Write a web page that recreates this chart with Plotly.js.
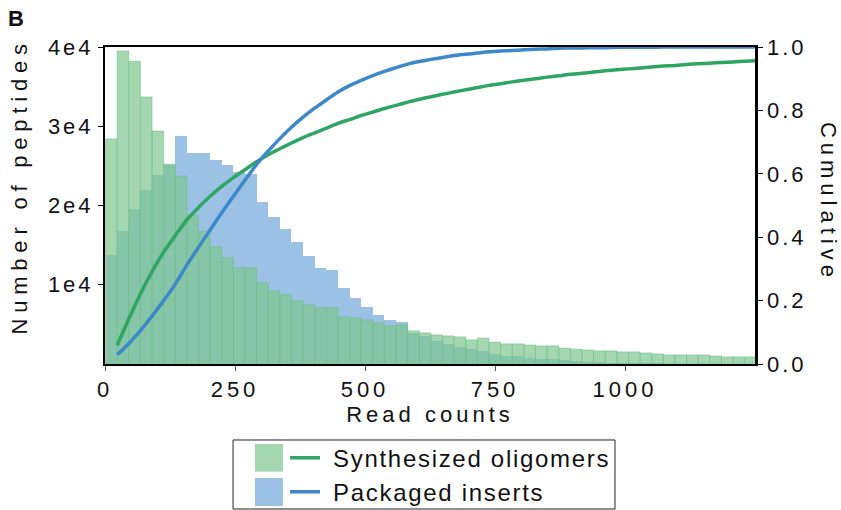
<!DOCTYPE html>
<html>
<head>
<meta charset="utf-8">
<script src="https://cdn.plot.ly/plotly-3.0.1.min.js"></script>
<style>
  html, body { margin: 0; padding: 0; background: #fff; }
  #chart { width: 841px; height: 510px; }
  .xtick text { letter-spacing: 4px; }
  .ytick text, .y2tick text { letter-spacing: 3px; }
  .xtitle { letter-spacing: 4px; }
  .legendtext { letter-spacing: 1.7px; transform: translate(8px, 0px); }
  g.annotation[data-index="1"] text { letter-spacing: 5.8px; }
  g.annotation[data-index="2"] text { letter-spacing: 5px; }
</style>
</head>
<body>
<div id="chart"></div>
<script>
// ---- Data ----
// Histogram bins: 56 bins of equal width starting at read count 1
const binStart = 1;
const binWidth = 22.35;

// Number of peptides per bin
const synthesizedCounts = [
  28400, 39500, 38200, 33700, 29400, 25200, 23700, 18800, 16750, 14800,
  13400, 12150, 12150, 10250, 9240, 8740, 7980, 7470, 7130, 7130,
  5950, 5820, 5570, 5190, 4810, 4940, 4180, 3920, 3670, 3540,
  3420, 3040, 3270, 2760, 2530, 2530, 2400, 2280, 2280, 2000,
  1870, 1770, 1650, 1650, 1520, 1520, 1390, 1270, 1140, 1140,
  1140, 1140, 1010, 890, 890, 890
];
const packagedCounts = [
  13800, 16840, 19620, 21900, 23800, 25100, 28740, 26590, 26590, 25700,
  25070, 24200, 24000, 20470, 18610, 17090, 15450, 13670, 12150, 11900,
  9620, 8360, 7220, 6200, 5570, 5320, 3920, 3540, 2910, 2530,
  2150, 1900, 1650, 1270, 1010, 1010, 720, 630, 630, 500,
  380, 250, 200, 170, 140, 110, 90, 70, 55, 45,
  35, 28, 22, 18, 14, 10
];

// Cumulative fraction at the right edge of each bin
const synthesizedCumulative = [
  0.059, 0.142, 0.221, 0.291, 0.353, 0.405, 0.455, 0.494, 0.529, 0.560,
  0.588, 0.613, 0.638, 0.660, 0.679, 0.697, 0.714, 0.729, 0.744, 0.759,
  0.771, 0.784, 0.795, 0.806, 0.816, 0.826, 0.835, 0.843, 0.851, 0.858,
  0.865, 0.872, 0.879, 0.884, 0.890, 0.895, 0.900, 0.905, 0.909, 0.914,
  0.917, 0.921, 0.925, 0.928, 0.931, 0.934, 0.937, 0.940, 0.942, 0.945,
  0.947, 0.949, 0.951, 0.953, 0.955, 0.957
];
const packagedCumulative = [
  0.029, 0.064, 0.105, 0.151, 0.200, 0.252, 0.312, 0.368, 0.423, 0.477,
  0.529, 0.580, 0.630, 0.672, 0.711, 0.747, 0.779, 0.807, 0.833, 0.858,
  0.878, 0.895, 0.910, 0.923, 0.935, 0.946, 0.954, 0.961, 0.967, 0.973,
  0.977, 0.981, 0.985, 0.987, 0.989, 0.991, 0.993, 0.994, 0.996, 0.997,
  0.997, 0.998, 0.998, 0.999, 0.999, 0.999, 0.999, 1.000, 1.000, 1.000,
  1.000, 1.000, 1.000, 1.000, 1.000, 1.000
];

const seriesNames = ['Synthesized oligomers', 'Packaged inserts'];
const xTickVals = [0, 250, 500, 750, 1000];
const yTickVals = [10000, 20000, 30000, 40000];
const yTickText = ['1e4', '2e4', '3e4', '4e4'];

// ---- Derived bin positions ----
const binLeft = synthesizedCounts.map((_, i) => binStart + i * binWidth);
const binRight = binLeft.map(v => v + binWidth);

const greenBar = 'rgba(125,198,142,0.7)';
const blueBar = 'rgba(88,152,212,0.6)';
const greenLine = '#2fa564';
const blueLine = '#3d88c9';
const FONT = 'Liberation Sans, Arial, sans-serif';

const traces = [
  {
    type: 'bar', x: binLeft, y: packagedCounts, width: binWidth, offset: 0,
    marker: { color: blueBar, line: { width: 0 } },
    showlegend: false, name: seriesNames[1], hoverinfo: 'skip'
  },
  {
    type: 'bar', x: binLeft, y: synthesizedCounts, width: binWidth, offset: 0,
    marker: { color: greenBar, line: { width: 0.6, color: 'rgba(110,190,135,0.9)' } },
    showlegend: false, name: seriesNames[0], hoverinfo: 'skip'
  },
  {
    type: 'scatter', mode: 'lines', x: binRight, y: synthesizedCumulative, yaxis: 'y2',
    line: { color: greenLine, width: 3.5, shape: 'spline', smoothing: 0.6 },
    name: seriesNames[0]
  },
  {
    type: 'scatter', mode: 'lines', x: binRight, y: packagedCumulative, yaxis: 'y2',
    line: { color: blueLine, width: 3.5, shape: 'spline', smoothing: 0.6 },
    name: seriesNames[1]
  }
];

// plot area: x 105..755 px, y 47..364 px
const layout = {
  width: 841, height: 510,
  margin: { l: 105, r: 86, t: 47, b: 146, pad: 0, autoexpand: false },
  paper_bgcolor: '#fff', plot_bgcolor: '#fff',
  font: { family: FONT, size: 22, color: '#111' },
  barmode: 'overlay', bargap: 0,
  showlegend: true,
  legend: {
    xref: 'container', yref: 'container',
    x: 0.3389, y: 0.146, xanchor: 'left', yanchor: 'top',
    bgcolor: 'rgba(0,0,0,0)', borderwidth: 0,
    font: { family: FONT, size: 24, color: '#111' },
    tracegroupgap: 0
  },
  xaxis: {
    range: [0, 1250], tickvals: xTickVals, ticktext: xTickVals.map(String),
    ticks: 'outside', ticklen: 5, tickwidth: 1, tickcolor: '#555',
    showline: true, linecolor: '#000', linewidth: 2, mirror: true,
    showgrid: false, zeroline: false,
    tickfont: { family: FONT, size: 22, color: '#111' },
    title: { text: 'Read counts', font: { family: FONT, size: 22, color: '#111' }, standoff: 0 }
  },
  yaxis: {
    range: [0, 40000], tickvals: yTickVals, ticktext: yTickText,
    ticks: 'outside', ticklen: 5, tickwidth: 1, tickcolor: '#000',
    showline: true, linecolor: '#000', linewidth: 2,
    showgrid: false, zeroline: false,
    tickfont: { family: FONT, size: 22, color: '#111' }
  },
  yaxis2: {
    overlaying: 'y', side: 'right', range: [0, 1], dtick: 0.2, tickformat: '.1f',
    ticks: 'outside', ticklen: 5, tickwidth: 1, tickcolor: '#000',
    showline: true, linecolor: '#000', linewidth: 2.5,
    showgrid: false, zeroline: false,
    tickfont: { family: FONT, size: 22, color: '#111' }
  },
  annotations: [
    { text: '<b>B</b>', xref: 'paper', yref: 'paper', x: -0.152, y: 1.135,
      xanchor: 'left', yanchor: 'top', showarrow: false,
      font: { family: FONT, size: 22, color: '#111' } },
    { text: 'Number of peptides', xref: 'paper', yref: 'paper', x: -0.131, y: 0.56,
      xanchor: 'center', yanchor: 'middle', textangle: -90, showarrow: false,
      font: { family: FONT, size: 22, color: '#111' } },
    { text: 'Cumulative', xref: 'paper', yref: 'paper', x: 1.113, y: 0.51,
      xanchor: 'center', yanchor: 'middle', textangle: 90, showarrow: false,
      font: { family: FONT, size: 22, color: '#111' } }
  ],
  shapes: [
    // legend frame
    { type: 'rect', xref: 'paper', yref: 'paper', x0: 0.197, x1: 0.7846, y0: -0.4574, y1: -0.2397,
      line: { color: '#222', width: 1 }, fillcolor: 'rgba(0,0,0,0)' },
    // legend swatches for the histograms
    { type: 'rect', xref: 'paper', yref: 'paper', x0: 0.2308, x1: 0.2738, y0: -0.3397, y1: -0.2524,
      line: { width: 0 }, fillcolor: greenBar },
    { type: 'rect', xref: 'paper', yref: 'paper', x0: 0.2308, x1: 0.2738, y0: -0.4479, y1: -0.3596,
      line: { width: 0 }, fillcolor: blueBar }
  ]
};

Plotly.newPlot('chart', traces, layout, { displayModeBar: false, staticPlot: true });
</script>
</body>
</html>
